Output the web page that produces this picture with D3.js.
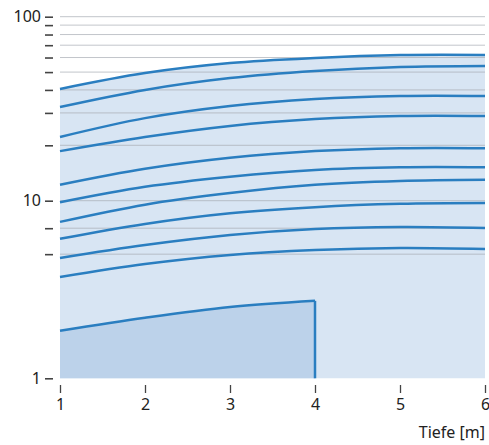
<!DOCTYPE html>
<html>
<head>
<meta charset="utf-8">
<script src="https://d3js.org/d3.v7.min.js"></script>
<style>
  body { margin: 0; background: #fff; }
  svg { display: block; font-family: "Noto Sans", sans-serif; }
</style>
</head>
<body>
<svg id="chart" width="489" height="445"></svg>
<script>
// depth in metres
var depths = [1, 2, 3, 4, 5, 6];

// one curve per row, value at each depth
var curves = [
  [40.5, 49.4, 56.0, 59.7, 61.9, 62.0],
  [32.3, 40.0, 46.4, 50.7, 53.3, 54.0],
  [22.2, 28.1, 32.7, 35.7, 37.1, 37.1],
  [18.6, 22.2, 25.5, 27.8, 28.9, 28.9],
  [12.2, 14.9, 17.1, 18.6, 19.3, 19.3],
  [9.8, 11.9, 13.5, 14.7, 15.2, 15.2],
  [7.6, 9.5, 11.0, 12.2, 12.8, 13.0],
  [6.1, 7.4, 8.5, 9.2, 9.6, 9.7],
  [4.76, 5.63, 6.41, 6.93, 7.11, 7.02],
  [3.72, 4.40, 4.95, 5.28, 5.42, 5.35]
];

// lower shaded block, only down to 4 m
var lowDepths = [1, 2, 3, 4];
var lowValues = [1.85, 2.19, 2.52, 2.73];

var xTicks = [1, 2, 3, 4, 5, 6];
var yLabelled = [1, 10, 100];
var yMinor = [5, 7, 20, 30, 40, 50, 60, 70, 80, 90];
var xTitle = "Tiefe [m]";

var svg = d3.select("#chart");

var x = d3.scaleLinear().domain([1, 6]).range([60, 485]);
// piecewise log scale: the decades are not drawn quite equally tall
var y = d3.scaleLog().domain([1, 10, 100]).range([378.3, 200.7, 16.7]);

var line = d3.line()
  .x(function(d) { return x(d[0]); })
  .y(function(d) { return y(d[1]); })
  .curve(d3.curveCatmullRom.alpha(0.5));

var area = d3.area()
  .x(function(d) { return x(d[0]); })
  .y0(y(1))
  .y1(function(d) { return y(d[1]); })
  .curve(d3.curveCatmullRom.alpha(0.5));

function pts(xs, vs) {
  return xs.map(function(d, i) { return [d, vs[i]]; });
}

// light fill under top curve
svg.append("path")
  .datum(pts(depths, curves[0]))
  .attr("d", area)
  .attr("fill", "#d8e5f3");

// darker block
var lowPts = pts(lowDepths, lowValues);
svg.append("path")
  .datum(lowPts)
  .attr("d", area)
  .attr("fill", "#bcd2ea");

// grid lines
var grid = yLabelled.concat(yMinor).filter(function(v) { return v > 1; });
svg.append("g").selectAll("line")
  .data(grid).enter()
  .append("line")
  .attr("x1", x(1)).attr("x2", x(6))
  .attr("y1", function(d) { return y(d); })
  .attr("y2", function(d) { return y(d); })
  .attr("stroke", "#a8adb3")
  .attr("stroke-opacity", 0.7)
  .attr("stroke-width", 1);

// curves
svg.append("g").selectAll("path")
  .data(curves).enter()
  .append("path")
  .attr("d", function(c) { return line(pts(depths, c)); })
  .attr("fill", "none")
  .attr("stroke", "#2a7ec0")
  .attr("stroke-width", 2.5);

svg.append("path")
  .attr("d", line(lowPts))
  .attr("fill", "none")
  .attr("stroke", "#2a7ec0")
  .attr("stroke-width", 2.5);

svg.append("line")
  .attr("x1", x(4)).attr("x2", x(4))
  .attr("y1", y(lowValues[3])).attr("y2", y(1))
  .attr("stroke", "#2a7ec0")
  .attr("stroke-width", 2.5);

// y axis: tick dashes only, no line
var yAxis = d3.axisLeft(y)
  .tickValues(yLabelled.concat(yMinor))
  .tickFormat(function(d) { return yLabelled.indexOf(d) >= 0 ? d : ""; })
  .tickSize(8)
  .tickPadding(4);
var gy = svg.append("g")
  .attr("transform", "translate(53,0)")
  .call(yAxis);
gy.select(".domain").remove();
gy.selectAll(".tick line").attr("stroke", "#444").attr("stroke-width", 1.6);
gy.selectAll("text").attr("font-size", 16).attr("fill", "#222")
  .attr("font-family", "Noto Sans, sans-serif");

// x axis
var xAxis = d3.axisBottom(x)
  .tickValues(xTicks)
  .tickFormat(d3.format("d"))
  .tickSize(8)
  .tickPadding(6);
var gx = svg.append("g")
  .attr("transform", "translate(0,385)")
  .call(xAxis);
gx.select(".domain").remove();
gx.selectAll(".tick line").attr("stroke", "#444").attr("stroke-width", 1.3);
gx.selectAll("text").attr("font-size", 16).attr("fill", "#222")
  .attr("font-family", "Noto Sans, sans-serif");

svg.append("text")
  .attr("x", 485).attr("y", 438)
  .attr("text-anchor", "end")
  .attr("font-size", 16)
  .attr("fill", "#222")
  .text(xTitle);
</script>
</body>
</html>
